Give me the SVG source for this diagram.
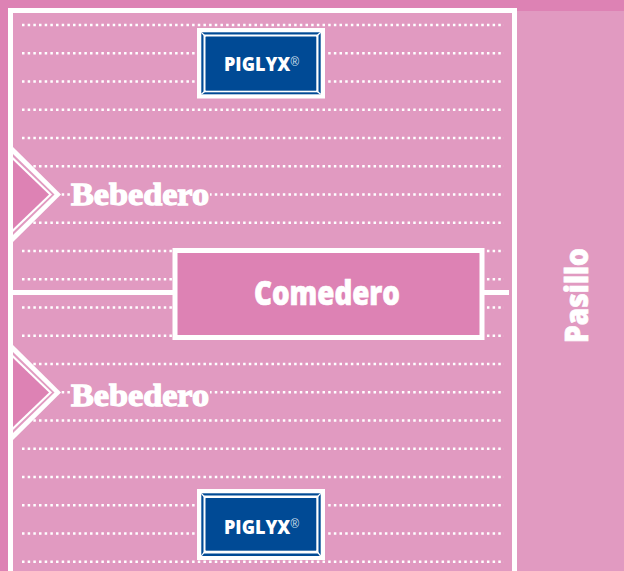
<svg xmlns="http://www.w3.org/2000/svg" width="624" height="571" viewBox="0 0 624 571">
<style>
.dots{stroke:#fff;stroke-width:2.5;stroke-dasharray:2.5 3.17;fill:none}
.wall{stroke:#fff;fill:none}
.dark{fill:#dd82b4}
.light{fill:#e19ac1}
.blue{fill:#004a95}
.white{fill:#fff}
.corner{stroke:#fff;stroke-width:1.2}
.lbl{font-family:"Open Sans","Liberation Sans",sans-serif;font-weight:800;fill:#fff;font-size:20px}
.reg{font-family:"Liberation Sans",Arial,sans-serif;font-weight:400;fill:#d5e0ee;font-size:13px}
.big{font-family:"Open Sans","Liberation Sans",sans-serif;font-weight:800;fill:#fff;stroke:#fff;stroke-width:.7}
.slab{font-family:"Liberation Serif","Times New Roman",serif;font-weight:700;fill:#fff;stroke:#fff;stroke-width:1.3}
</style>
<rect class="dark" width="624" height="571"/>
<rect class="light" x="8" y="11" width="616" height="560"/>
<g id="rows">
<path class="dots" d="M22 25H504M22 53.250H504M22 81.500H504M22 109.750H504M22 138H504M22 166.250H504M22 194.500H504M22 222.750H504M22 251H504M22 279.250H504M22 307.500H504M22 335.750H504M22 364H504M22 392.250H504M22 420.500H504M22 448.750H504M22 477H504M22 505.250H504M22 533.500H504M22 561.750H504"/>
</g>
<g id="connectors">
<path class="wall" stroke-width="5" d="M10.500 571V10.500H514.500V571"/>
<path class="wall" stroke-width="5" d="M13 292.500H174M483 292.500H509"/>
</g>
<g id="piglyx-top">
<rect class="white" x="197" y="28" width="128" height="70.500"/>
<rect class="blue" x="201.300" y="32.300" width="119.400" height="62"/>
<rect class="white" x="203.500" y="34.500" width="115" height="57.800"/>
<rect class="blue" x="205.500" y="36.500" width="110.800" height="54.200"/>
<path class="corner" d="M201.300 32.300L205.500 36.500M320.700 32.300L316.300 36.500M201.300 94.300L205.500 90.700M320.700 94.300L316.300 90.700"/>
<text class="lbl" transform="translate(224 71) scale(.9 1)">PIGLYX<tspan class="reg" dy="-5">®</tspan></text>
</g>
<g id="piglyx-bottom">
<rect class="white" x="197" y="489" width="128" height="71"/>
<rect class="blue" x="201.300" y="493.300" width="119.400" height="62.700"/>
<rect class="white" x="203.500" y="495.500" width="115" height="58"/>
<rect class="blue" x="205.500" y="498" width="110.800" height="52.700"/>
<path class="corner" d="M201.300 493.300L205.500 498M320.700 493.300L316.300 498M201.300 556L205.500 550.700M320.700 556L316.300 550.700"/>
<text class="lbl" transform="translate(224 534) scale(.9 1)">PIGLYX<tspan class="reg" dy="-6">®</tspan></text>
</g>
<g id="bebedero-top">
<path class="white" d="M13 147L61 194.500L13 242Z"/>
<path class="light" d="M13 154L54.500 194.500L13 235Z"/>
<path class="white" d="M13 157L52 194.500L13 232Z"/>
<path class="dark" d="M13 160L49 194.500L13 229Z"/>
<rect class="light" x="70" y="178" width="140" height="32"/>
<text class="slab" x="71" y="205" font-size="32" textLength="138" lengthAdjust="spacingAndGlyphs">Bebedero</text>
</g>
<g id="bebedero-bottom">
<path class="white" d="M13 345L61 392.500L13 440Z"/>
<path class="light" d="M13 352L54.500 392.500L13 433Z"/>
<path class="white" d="M13 355L52 392.500L13 430Z"/>
<path class="dark" d="M13 358L49 392.500L13 427Z"/>
<rect class="light" x="70" y="376" width="140" height="32"/>
<text class="slab" x="71" y="406" font-size="32" textLength="138" lengthAdjust="spacingAndGlyphs">Bebedero</text>
</g>
<g id="comedero">
<rect class="dark" x="175" y="250.500" width="307" height="87" stroke="#fff" stroke-width="5"/>
<text class="big" x="254" y="305" font-size="33" textLength="146" lengthAdjust="spacingAndGlyphs">Comedero</text>
</g>
<g id="pasillo">
<text class="big" transform="translate(588 343) rotate(-90)" font-size="31" textLength="95" lengthAdjust="spacingAndGlyphs">Pasillo</text>
</g>
</svg>
